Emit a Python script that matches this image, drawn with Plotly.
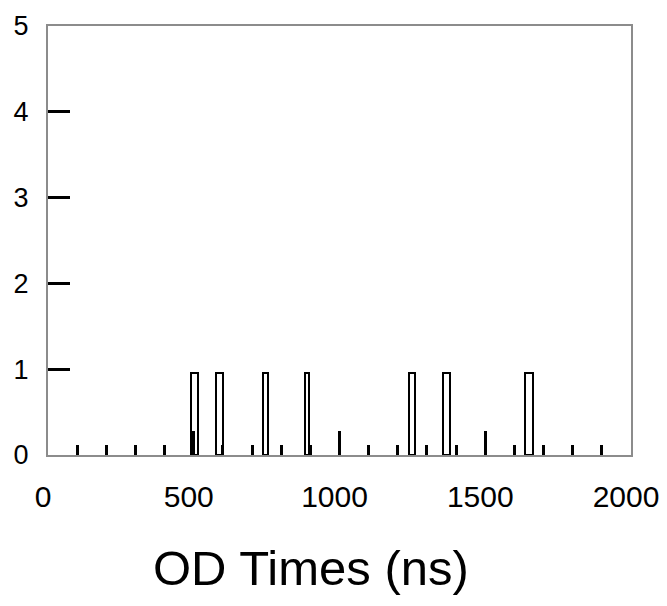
import plotly.graph_objects as go

# Histogram bins (ns) and heights
bin_start = [490, 576, 737, 880, 1237, 1355, 1636]
bin_end = [515, 599, 754, 896, 1260, 1379, 1663]
counts = [0.95, 0.95, 0.95, 0.95, 0.95, 0.95, 0.95]

x_tick_vals = [0, 500, 1000, 1500, 2000]
x_tick_text = ["0", "500", "1000", "1500", "2000"]
x_major_marks = [500, 1000, 1500]
x_minor_marks = [v for v in range(100, 2000, 100) if v % 500 != 0]
y_tick_vals = [0, 1, 2, 3, 4, 5]
y_tick_text = ["0", "1", "2", "3", "4", "5"]
y_marks = [1, 2, 3, 4]

centers = [(a + b) / 2 for a, b in zip(bin_start, bin_end)]
widths = [b - a for a, b in zip(bin_start, bin_end)]

FONT = "Liberation Sans, Arial, Helvetica, sans-serif"
AXIS_GREY = "#8c8c8c"

fig = go.Figure()
fig.add_trace(go.Bar(
    x=centers, y=counts, width=widths,
    marker=dict(color="white", line=dict(color="black", width=2)),
    showlegend=False, hoverinfo="skip",
))
# invisible trace for the tick-only overlay axis
fig.add_trace(go.Scatter(x=[0, 2000], y=[0, 0], xaxis="x2", mode="markers",
                         marker=dict(opacity=0), showlegend=False, hoverinfo="skip"))

fig.update_layout(
    width=659, height=589,
    margin=dict(l=40, r=36, t=18, b=142, autoexpand=False),
    paper_bgcolor="white", plot_bgcolor="white",
    font=dict(family=FONT, color="black"),
    xaxis=dict(
        range=[0, 2000], tickmode="array", tickvals=x_tick_vals, ticktext=x_tick_text,
        ticks="", showgrid=False, zeroline=False, automargin=False,
        showline=True, linecolor=AXIS_GREY, linewidth=2, mirror=True,
        tickfont=dict(size=30, family=FONT, color="black"),
        ticklabelstandoff=14, ticklabelshift=-5,
    ),
    xaxis2=dict(
        range=[0, 2000], overlaying="x", anchor="y", side="bottom", automargin=False,
        tickmode="array", tickvals=x_major_marks, showticklabels=False,
        ticks="inside", ticklen=24, tickwidth=3, tickcolor="black",
        minor=dict(tickmode="array", tickvals=x_minor_marks, ticks="inside",
                   ticklen=10, tickwidth=3, tickcolor="black"),
        showgrid=False, zeroline=False, showline=False,
    ),
    yaxis=dict(
        range=[0, 5], tickmode="array", tickvals=y_tick_vals, ticktext=y_tick_text,
        ticks="", showgrid=False, zeroline=False, automargin=False,
        showline=True, linecolor=AXIS_GREY, linewidth=2, mirror=True,
        tickfont=dict(size=27, family=FONT, color="black"),
        ticklabelstandoff=12,
        minor=dict(tickmode="array", tickvals=y_marks, ticks="inside",
                   ticklen=22, tickwidth=3, tickcolor="black"),
    ),
    bargap=0,
    annotations=[dict(
        text="OD Times (ns)", xref="paper", yref="paper",
        x=0.451, y=-0.263, xanchor="center", yanchor="middle",
        showarrow=False, font=dict(size=49, family=FONT, color="black"),
    )],
)

fig.write_html("out.html")
